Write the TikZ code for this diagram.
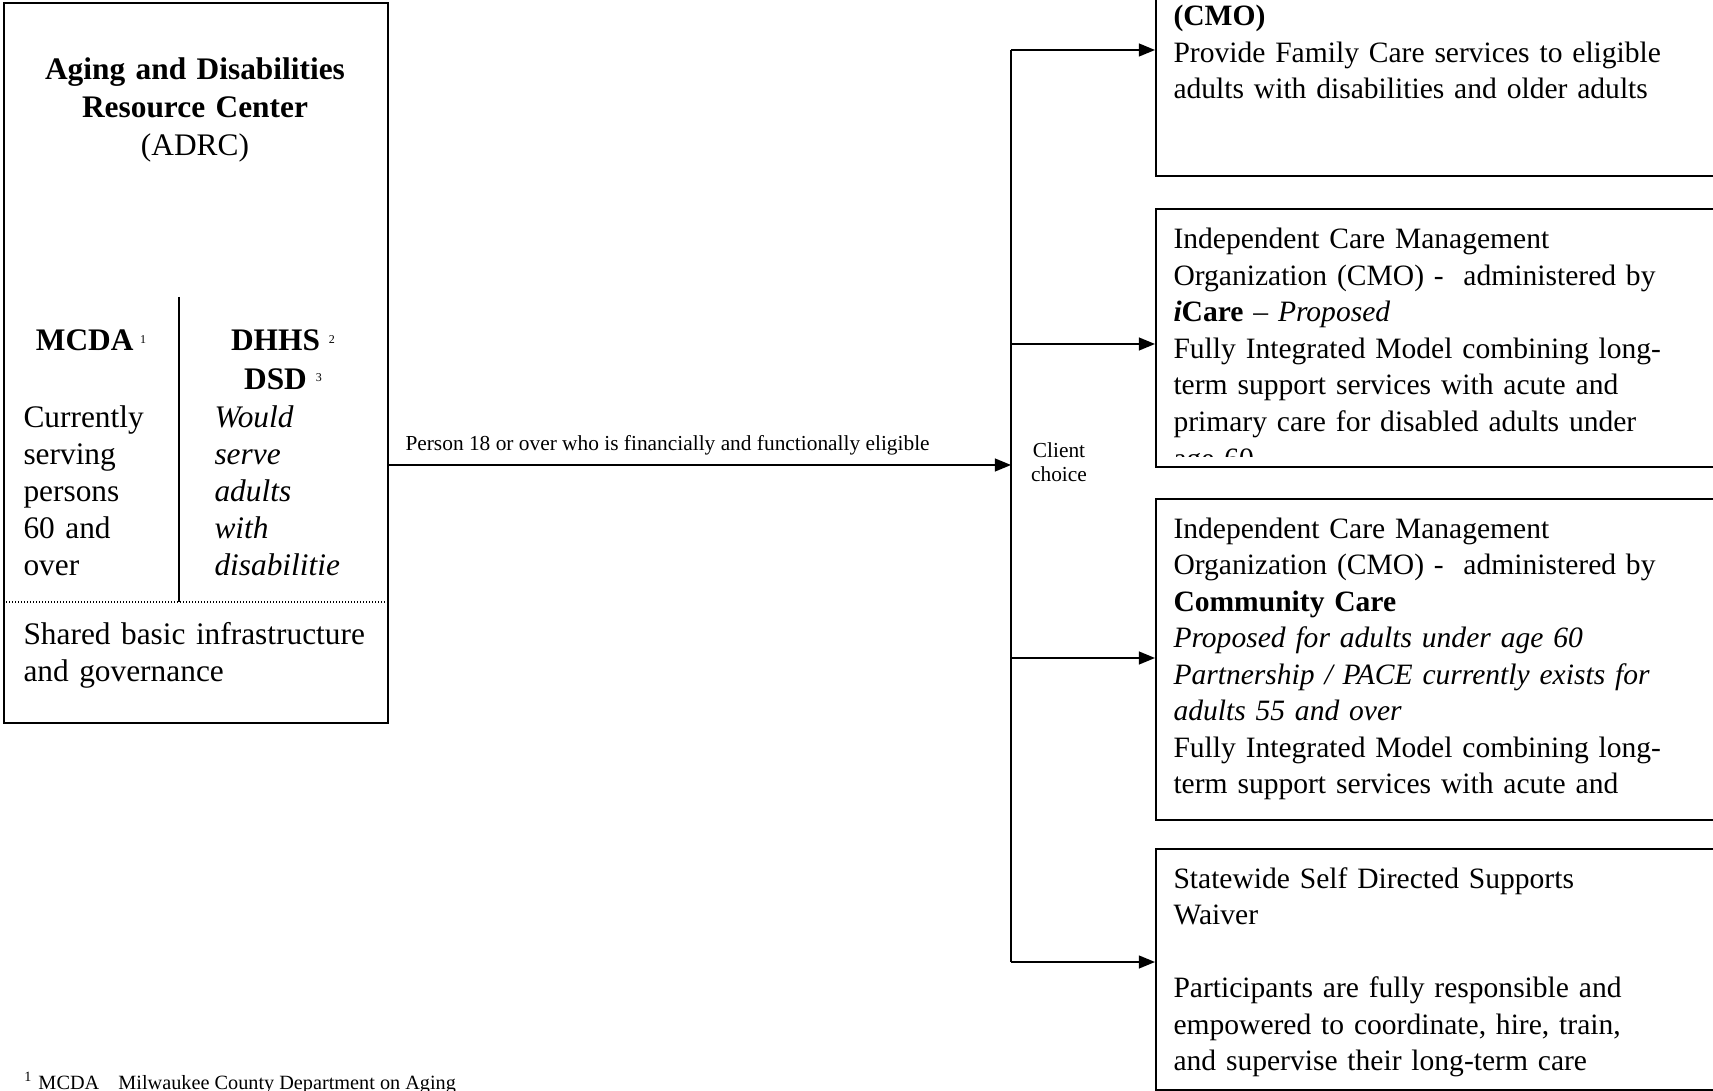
\documentclass[tikz,border=0pt]{standalone}
\usepackage{fontspec}
\setmainfont{Liberation Serif}
\usetikzlibrary{arrows.meta}
\newcommand\supn[1]{\raisebox{3.1pt}{\fontsize{4.8pt}{5pt}\selectfont #1}}
\begin{document}
\begin{tikzpicture}[x=0.4pt,y=-0.4pt,
  box/.style={draw, line width=0.8pt, inner sep=0pt, anchor=north west},
  conn/.style={line width=0.6pt},
  arr/.style={conn, -{Triangle[length=6.5pt,width=5.2pt]}},
  rtext/.style={inner sep=0pt, anchor=base west, align=left, text width=250pt,
    font=\fontsize{11.82pt}{14.6pt}\selectfont},
  ltext/.style={inner sep=0pt, anchor=base west, align=left, text width=100pt,
    font=\fontsize{12.55pt}{14.76pt}\selectfont},
  ctext/.style={inner sep=0pt, anchor=base, align=center,
    font=\fontsize{12.55pt}{15.1pt}\selectfont},
  small/.style={inner sep=0pt, font=\fontsize{8.55pt}{9.5pt}\selectfont}
]
\useasboundingbox (0,0) rectangle (1713,1091);
\clip (0,0) rectangle (1713,1091);

% ---------- left box ----------
\node[box, minimum width=153.6pt, minimum height=288pt] (adrc) at (3,2) {};
\node[ctext, text width=160pt] (title) at (195,80)
  {\textbf{Aging and Disabilities}\\\textbf{Resource Center}\\(ADRC)};
\draw[line width=0.8pt] (179,297) coordinate (dtop) -- (179,602) coordinate (dbot);
\draw[line width=0.5pt, dash pattern=on 0.45pt off 0.75pt] (3,602) coordinate (dl) -- (387,602) coordinate (dr);
\node[ctext, text width=70pt] (mcda) at (91,351) {\textbf{MCDA}\hspace{2.6pt}\supn{1}};
\node[ctext, text width=100pt] (dhhs) at (283,351)
  {\textbf{DHHS}\hspace{3.6pt}\supn{2}\\[0.4pt]\textbf{DSD}\hspace{3.6pt}\supn{3}};
\node[ltext] (curr) at (23,428) {Currently\\serving\\persons\\60 and\\over};
\node[ltext] (would) at (214,428)
  {\itshape Would\\serve\\adults\\with\\disabilitie};
\node[ltext, text width=150pt, font=\fontsize{12.55pt}{14.5pt}\selectfont] (shared) at (23,645)
  {Shared basic infrastructure\\and governance};

% ---------- right boxes ----------
\node[box, minimum width=230pt, minimum height=94pt] (b1) at (1155,-60) {};
\node[box, minimum width=230pt, minimum height=103.2pt] (b2) at (1155,208) {};
\node[box, minimum width=230pt, minimum height=128.4pt] (b3) at (1155,498) {};
\node[box, minimum width=230pt, minimum height=96.4pt] (b4) at (1155,848) {};

\node[rtext] (t1) at (1173,26)
  {\textbf{(CMO)}\\Provide Family Care services to eligible\\adults with disabilities and older adults};
\begin{scope}
  \clip (1155,208) rectangle (1740,457);
  \node[rtext] (t2) at (1173,249)
    {Independent Care Management\\
     Organization (CMO) -\ \ administered by\\
     \textbf{\textit{i}Care} -- \textit{Proposed}\\
     Fully Integrated Model combining long-\\
     term support services with acute and\\
     primary care for disabled adults under\\
     age 60};
\end{scope}
\node[rtext] (t3) at (1173,538)
  {Independent Care Management\\
   Organization (CMO) -\ \ administered by\\
   \textbf{Community Care}\\
   \textit{Proposed for adults under age 60}\\
   \textit{Partnership / PACE currently exists for}\\
   \textit{adults 55 and over}\\
   Fully Integrated Model combining long-\\
   term support services with acute and};
\node[rtext] (t4) at (1173,888)
  {Statewide Self Directed Supports\\
   Waiver\\[14.6pt]
   Participants are fully responsible and\\
   empowered to coordinate, hire, train,\\
   and supervise their long-term care};

% ---------- connectors ----------
\coordinate (m0) at (1011,465);
\coordinate (c1) at (1011,50);
\coordinate (c2) at (1011,344);
\coordinate (c3) at (1011,658);
\coordinate (c4) at (1011,962);
\draw[arr] (adrc.east |- m0) -- (m0);
\draw[conn] (c1) -- (c4);
\draw[arr] (c1) -- (c1 -| b1.west);
\draw[arr] (c2) -- (c2 -| b2.west);
\draw[arr] (c3) -- (c3 -| b3.west);
\draw[arr] (c4) -- (c4 -| b4.west);

\node[small, anchor=base west] (lbl) at (405,451)
  {Person 18 or over who is financially and functionally eligible};
\node[small, anchor=base, align=center, text width=40pt] (choice) at (1059,458)
  {Client\\choice};

% ---------- footnote ----------
\node[small, anchor=base west, font=\fontsize{8.1pt}{9pt}\selectfont] (fn) at (24,1089)
  {\makebox[5.6pt][l]{\textsuperscript{1}}\makebox[32pt][l]{MCDA}Milwaukee County Department on Aging};
\end{tikzpicture}
\end{document}
